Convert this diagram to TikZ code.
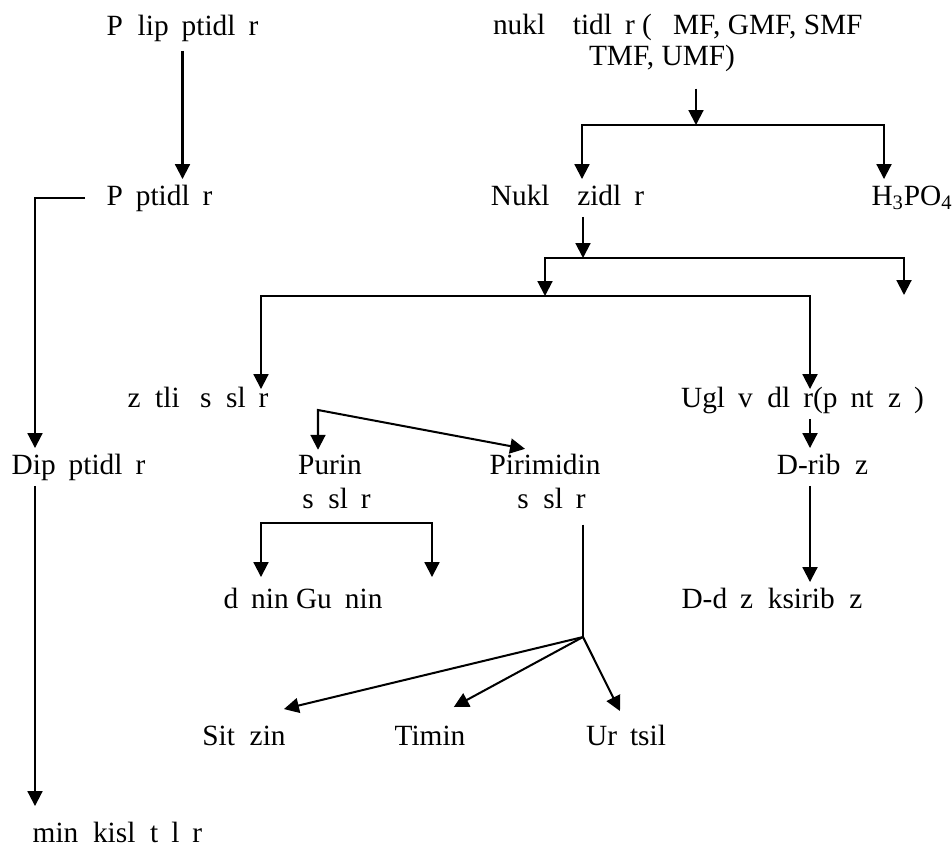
\documentclass[tikz,border=0pt]{standalone}
\usepackage{fontspec}
\setmainfont{Liberation Serif}
\usetikzlibrary{arrows.meta}
\newcommand{\skipch}[1]{\phantom{#1}}

\begin{document}
\begin{tikzpicture}[x=0.2mm,y=-0.2mm,line width=1.15pt,>={Triangle[length=8.5pt,width=8.5pt]},
	font=\fontsize{16.7pt}{20pt}\selectfont,
	lbl/.style={anchor=base,inner sep=2.5pt,text height=11.7pt,text depth=3.7pt},
	lbl2/.style={anchor=base,inner sep=2.5pt,align=center}]
	\useasboundingbox (0,0) rectangle (952,848);
	\node at (182.5,35) [lbl] (poly) {P\skipch{o}lip\skipch{e}ptidl\skipch{a}r};
	\node at (487.6,65) [lbl2,anchor=base west,align=left] (nuc) {nukl\skipch{eo}tidl\skipch{a}r (\skipch{A}MF, GMF, SMF\\[-2.8pt]\hspace*{19.2mm}TMF, UMF)};
	\node at (159.5,205) [lbl] (pep) {P\skipch{e}ptidl\skipch{a}r};
	\node at (567.5,205) [lbl] (nzd) {Nukl\skipch{eo}zidl\skipch{a}r};
	\node at (912,205) [lbl] (hpo) {H\textsubscript{3}PO\textsubscript{4}};
	\node at (198,407) [lbl] (azot) {z\skipch{o}tli \skipch{a}s\skipch{o}sl\skipch{a}r};
	\node at (802.5,407) [lbl] (ugl) {Ugl\skipch{e}v\skipch{o}dl\skipch{a}r(p\skipch{e}nt\skipch{o}z\skipch{a})};
	\node at (78.5,474) [lbl] (dip) {Dip\skipch{e}ptidl\skipch{a}r};
	\node at (330,508) [lbl2] (pur) {Purin\\[-1pt]\skipch{a}s\skipch{o}sl\skipch{a}r};
	\node at (545,508) [lbl2] (pir) {Pirimidin\\[-1pt]\skipch{a}s\skipch{o}sl\skipch{a}r};
	\node at (822.5,474) [lbl] (drib) {D-rib\skipch{o}z};
	\node at (303,608) [lbl] (ade) {d\skipch{e}nin Gu\skipch{a}nin};
	\node at (772,608) [lbl] (ddez) {D-d\skipch{e}z\skipch{o}ksirib\skipch{o}z};
	\node at (244,745) [lbl] (sit) {Sit\skipch{o}zin};
	\node at (430,745) [lbl] (tim) {Timin};
	\node at (626,745) [lbl] (urat) {Ur\skipch{a}tsil};
	\node at (117.5,842) [lbl] (amino) {min\skipch{o}kisl\skipch{o}t\skipch{a}l\skipch{a}r};
	% branch points
	\coordinate (lft) at (35,201);
	\coordinate (j1) at (696,125);
	\coordinate (j1a) at (582,125);
	\coordinate (j1b) at (884,125);
	\coordinate (j2) at (583,258);
	\coordinate (j2a) at (545,258);
	\coordinate (j2b) at (904,258);
	\coordinate (j2c) at (904,295);
	\coordinate (j3a) at (261,296);
	\coordinate (j3b) at (810,296);
	\coordinate (j4) at (318,410);
	\coordinate (j5a) at (261,523);
	\coordinate (j5b) at (432,523);
	\coordinate (j6) at (583,637);
	% left column
	\draw [->,shorten <=0.8mm] (poly.south) -- (poly.south |- pep.north);
	\draw [->,shorten <=3.2mm] (pep.west) -- (pep.west -| lft) -- (lft |- dip.north);
	\draw [->,shorten >=2mm] (dip.south -| lft) -- (amino.north -| lft);
	% right part
	\draw [->,shorten <=2.4mm] (j1 |- nuc.south) -- (j1);
	\draw [<->] (j1a |- nzd.north) -- (j1a) -- (j1b) -- (j1b |- hpo.north);
	\draw [->] (j2 |- nzd.south) -- (j2);
	\draw [<->] (j2a |- j3a) -- (j2a) -- (j2b) -- (j2c);
	\draw [<->,shorten <=-1.6mm,shorten >=-1.6mm] (j3a |- azot.north) -- (j3a) -- (j3b) -- (j3b |- ugl.north);
	\draw [<->] (j4 |- pur.north) -- (j4) -- ([xshift=-4mm]pir.north);
	\draw [->] (ugl.south -| j3b) -- (drib.north -| j3b);
	\draw [->] (drib.south -| j3b) -- (ddez.north -| j3b);
	\draw [<->,shorten <=1mm,shorten >=1mm] (j5a |- ade.north) -- (j5a) -- (j5b) -- (j5b |- ade.north);
	\draw [shorten <=2.2mm] (j6 |- pir.south) -- (j6);
	\draw [->] (j6) -- ([shift={(-7,-10)}]sit.north east);
	\draw [->] (j6) -- ([shift={(-17,-12)}]tim.north east);
	\draw [->] (j6) -- ([shift={(-6,-8)}]urat.north);
\end{tikzpicture}
\end{document}
